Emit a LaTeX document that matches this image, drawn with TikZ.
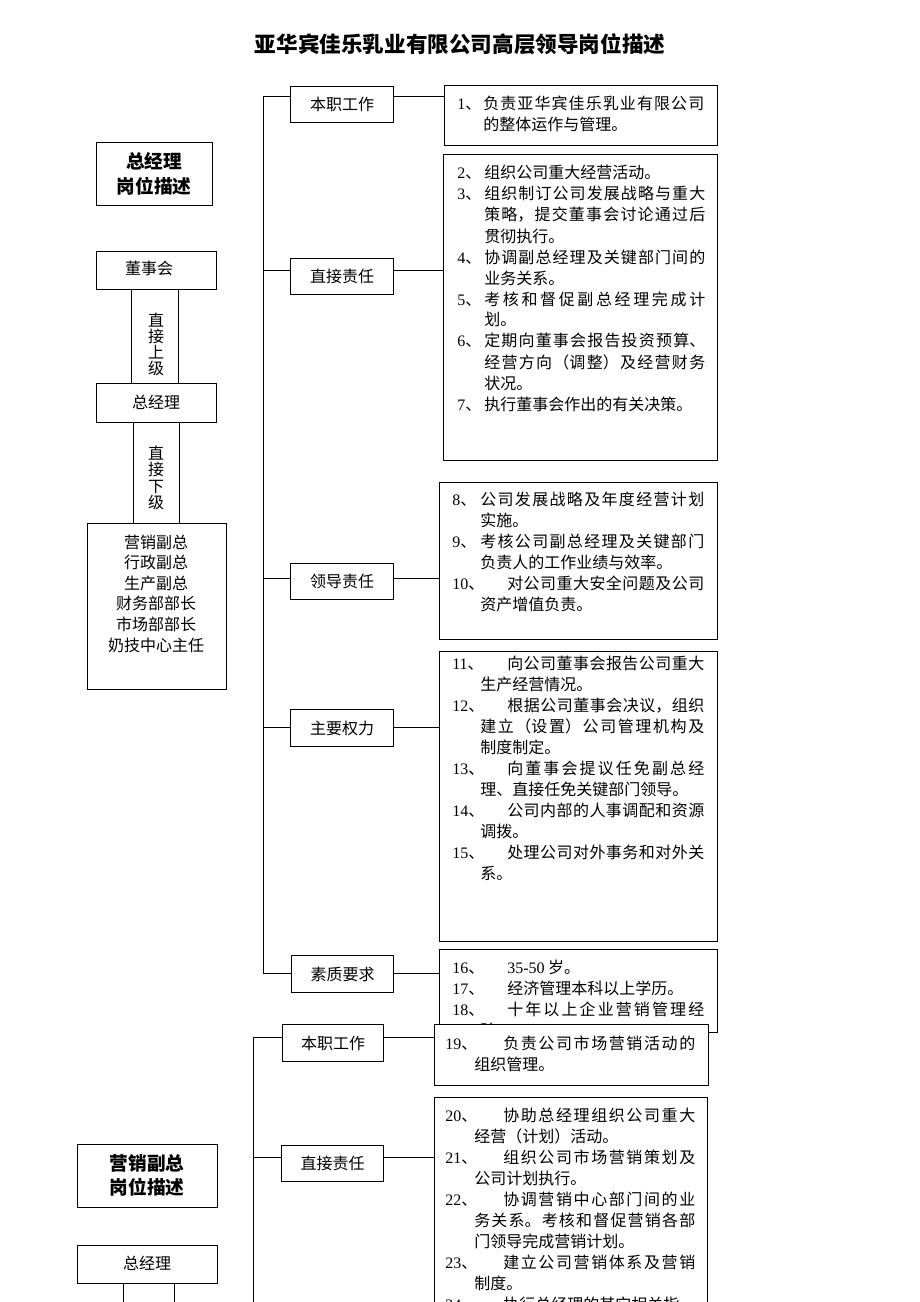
\documentclass[tikz,border=0pt]{standalone}
\usepackage{fontspec}
\setmainfont{Noto Sans CJK SC}
\newfontfamily\numf{Liberation Serif}
\XeTeXlinebreaklocale "zh"
\XeTeXlinebreakskip=0pt plus 3pt
\newcommand\itm[3]{\par\hangindent=#1\hangafter=1\noindent\makebox[#2][l]{{\numf #3}、}\ignorespaces}
\newcommand\bxat[5]{\node[bx, minimum width={(#4-#2)*0.75pt}, minimum height={(#5-#3)*0.75pt}] (#1) at (#2,#3) {};}
\newcommand\lblat[6]{\node[bx, font=\fontsize{12}{14}\selectfont, minimum width={(#4-#2)*0.75pt}, minimum height={(#5-#3)*0.75pt}] (#1) at (#2,#3) {#6};}
\tikzset{
  bx/.style={draw, line width=0.75pt, fill=white, inner sep=0pt, anchor=north west},
  txt/.style={anchor=base west, inner sep=0pt, align=justify, font=\fontsize{12}{15.75}\selectfont},
  ctxt/.style={anchor=base, inner sep=0pt, align=flush center},
  ln/.style={line width=0.75pt},
}
\begin{document}
\begin{tikzpicture}[x=0.75pt, y=-0.75pt]
\useasboundingbox (0,0) rectangle (920,1302);
\clip (0,0) rectangle (920,1302);

% title
\node[anchor=base, inner sep=0pt, font=\fontsize{16.2}{18}\selectfont\bfseries] (title) at (460,53) {亚华宾佳乐乳业有限公司高层领导岗位描述};

% ---------- section 1 left column ----------
\bxat{g1}{96}{142}{212}{205}
\node[ctxt, text width=87pt, font=\fontsize{14}{18}\selectfont\bfseries] (g1t) at (154,169) {总经理\\岗位描述};
\bxat{g2}{96}{251}{216}{289}
\node[ctxt, font=\fontsize{12}{14}\selectfont] (g2t) at (149,274) {董事会};
\bxat{g3}{131}{289}{178}{383}
\node[ctxt, text width=14pt, font=\fontsize{12}{12}\selectfont] (g3t) at (156,326) {直\\接\\上\\级};
\bxat{g4}{96}{383}{216}{422}
\node[ctxt, font=\fontsize{12}{14}\selectfont] (g4t) at (156,408) {总经理};
\bxat{g5}{133}{422}{179}{523}
\node[ctxt, text width=14pt, font=\fontsize{12}{12.4}\selectfont] (g5t) at (156,459) {直\\接\\下\\级};
\bxat{g6}{87}{523}{226}{689}
\node[ctxt, text width=100pt, font=\fontsize{12}{15.45}\selectfont] (g6t) at (156,548) {营销副总\\行政副总\\生产副总\\财务部部长\\市场部部长\\奶技中心主任};

% ---------- section 1 tree ----------
\coordinate (j1) at (263,97);
\coordinate (j2) at (263,270);
\coordinate (j3) at (263,578);
\coordinate (j4) at (263,727);
\coordinate (j5) at (263,973);

\lblat{l1}{290}{86}{393}{122}{本职工作}
\lblat{l2}{290}{258}{393}{294}{直接责任}
\lblat{l3}{290}{563}{393}{599}{领导责任}
\lblat{l4}{290}{709}{393}{746}{主要权力}
\lblat{l5}{291}{955}{393}{992}{素质要求}

\draw[ln] (j1 -| l1.west) -- (j1) -- (j5) -- (j5 -| l5.west);
\draw[ln] (j2) -- (j2 -| l2.west);
\draw[ln] (j3) -- (j3 -| l3.west);
\draw[ln] (j4) -- (j4 -| l4.west);

\bxat{b1}{444}{85}{717}{145}
\bxat{b2}{443}{154}{717}{460}
\bxat{b3}{439}{482}{717}{639}
\bxat{b4}{439}{651}{717}{941}
\bxat{b5}{439}{949}{717}{1032}

\draw[ln] (j1 -| l1.east) -- (j1 -| b1.west);
\draw[ln] (j2 -| l2.east) -- (j2 -| b2.west);
\draw[ln] (j3 -| l3.east) -- (j3 -| b3.west);
\draw[ln] (j4 -| l4.east) -- (j4 -| b4.west);
\draw[ln] (j5 -| l5.east) -- (j5 -| b5.west);

\node[txt, text width=185.25pt] (t1) at (457,88.5) {%
\itm{19.5pt}{19.5pt}{1}负责亚华宾佳乐乳业有限公司\linebreak 的整体运作与管理。\par};

\node[txt, text width=186pt] (t2) at (457,158) {%
\itm{20.25pt}{20.25pt}{2}组织公司重大经营活动。
\itm{20.25pt}{20.25pt}{3}组织制订公司发展战略与重大\linebreak 策略，提交董事会讨论通过后\linebreak 贯彻执行。
\itm{20.25pt}{20.25pt}{4}协调副总经理及关键部门间的\linebreak 业务关系。
\itm{20.25pt}{20.25pt}{5}考核和督促副总经理完成计\linebreak 划。
\itm{20.25pt}{20.25pt}{6}定期向董事会报告投资预算、\linebreak 经营方向（调整）及经营财务\linebreak 状况。
\itm{20.25pt}{20.25pt}{7}执行董事会作出的有关决策。\par};

\node[txt, text width=189pt] (t3) at (452,484.5) {%
\itm{21pt}{21pt}{8}公司发展战略及年度经营计划\linebreak 实施。
\itm{21pt}{21pt}{9}考核公司副总经理及关键部门\linebreak 负责人的工作业绩与效率。
\itm{21pt}{41.25pt}{10}对公司重大安全问题及公司\linebreak 资产增值负责。\par};

\node[txt, text width=189pt] (t4) at (452,648.5) {%
\itm{21pt}{41.25pt}{11}向公司董事会报告公司重大\linebreak 生产经营情况。
\itm{21pt}{41.25pt}{12}根据公司董事会决议，组织\linebreak 建立（设置）公司管理机构及\linebreak 制度制定。
\itm{21pt}{41.25pt}{13}向董事会提议任免副总经\linebreak 理、直接任免关键部门领导。
\itm{21pt}{41.25pt}{14}公司内部的人事调配和资源\linebreak 调拨。
\itm{21pt}{41.25pt}{15}处理公司对外事务和对外关\linebreak 系。\par};

\node[txt, text width=189pt] (t5) at (452,952.5) {%
\itm{21pt}{41.25pt}{16}{\numf 35-50} 岁。
\itm{21pt}{41.25pt}{17}经济管理本科以上学历。
\itm{21pt}{41.25pt}{18}十年以上企业营销管理经\linebreak 验。\par};

% ---------- section 2 ----------
\bxat{h1}{77}{1144}{217}{1207}
\node[ctxt, text width=100pt, font=\fontsize{14}{18}\selectfont\bfseries] (h1t) at (147,1170) {营销副总\\岗位描述};
\bxat{h2}{77}{1245}{217}{1283}
\node[ctxt, font=\fontsize{12}{14}\selectfont] (h2t) at (147,1269) {总经理};
\bxat{h3}{123}{1283}{174}{1330}

\coordinate (k1) at (253,1037);
\coordinate (k2) at (253,1157);
\coordinate (k3) at (253,1330);

\lblat{m1}{282}{1024}{383}{1061}{本职工作}
\lblat{m2}{281}{1145}{383}{1181}{直接责任}

\draw[ln] (k1 -| m1.west) -- (k1) -- (k3);
\draw[ln] (k2) -- (k2 -| m2.west);

\bxat{c1}{434}{1024}{708}{1085}
\bxat{c2}{434}{1097}{707}{1330}

\draw[ln] (k1 -| m1.east) -- (k1 -| c1.west);
\draw[ln] (k2 -| m2.east) -- (k2 -| c2.west);

\node[txt, text width=187.5pt] (u1) at (445,1028.5) {%
\itm{21.75pt}{43.5pt}{19}负责公司市场营销活动的\linebreak 组织管理。\par};

\node[txt, text width=187.5pt] (u2) at (445,1100.5) {%
\itm{21.75pt}{43.5pt}{20}协助总经理组织公司重大\linebreak 经营（计划）活动。
\itm{21.75pt}{43.5pt}{21}组织公司市场营销策划及\linebreak 公司计划执行。
\itm{21.75pt}{43.5pt}{22}协调营销中心部门间的业\linebreak 务关系。考核和督促营销各部\linebreak 门领导完成营销计划。
\itm{21.75pt}{43.5pt}{23}建立公司营销体系及营销\linebreak 制度。
\itm{21.75pt}{43.5pt}{24}执行总经理的其它相关指\par};
\end{tikzpicture}
\end{document}
